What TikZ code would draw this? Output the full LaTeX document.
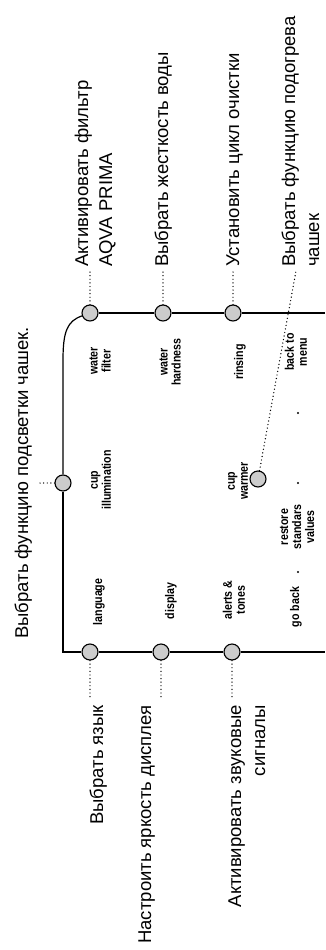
\documentclass[tikz,border=0pt]{standalone}
\usepackage{fontspec}
\setmainfont{Liberation Sans}
\newfontfamily\menufont{Liberation Sans}[FakeStretch=0.85]
\usepackage{tikz}

\begin{document}
\begin{tikzpicture}[x=1pt,y=-1pt,
    knob/.style={circle,draw,line width=1.1pt,fill=gray!40,minimum size=16pt,inner sep=0pt},
    track/.style={line width=1.2pt},
    leader/.style={line width=1.4pt,line cap=round,dash pattern=on 0pt off 3.6pt},
    menu/.style={rotate=90,align=center,inner sep=0pt,font=\menufont\bfseries\fontsize{12.5}{13}\selectfont},
    hint/.style={rotate=90,inner sep=0pt,font=\fontsize{18.5}{24}\selectfont},
    speck/.style={circle,fill,inner sep=0pt,minimum size=2.4pt}]
    \useasboundingbox (0,0) rectangle (325,950);
    \node[knob] (wf) at (90,313) {};
    \node[knob] (wh) at (163,313) {};
    \node[knob] (rin) at (233,313) {};
    \node[knob] (ci) at (63,483) {};
    \node[knob] (cw) at (258,479) {};
    \node[knob] (lang) at (90,652) {};
    \node[knob] (disp) at (161,652) {};
    \node[knob] (alert) at (232,652) {};
    \coordinate (topend) at (325,313);
    \coordinate (botend) at (325,652);
    \coordinate (bend) at (63,360);
    \coordinate (corner) at (63,652);
    \draw[track] (topend) -- (rin);
    \draw[track] (rin) -- (wh);
    \draw[track] (wh) -- (wf);
    \draw[track] (wf.200) .. controls (67,321) and (63,332) .. (bend) -- (ci);
    \draw[track] (ci) -- (corner) -- (lang);
    \draw[track] (lang) -- (disp);
    \draw[track] (disp) -- (alert);
    \draw[track] (alert) -- (botend);
    \coordinate (wfend) at (90,271);
    \coordinate (whend) at (163,271);
    \coordinate (rinend) at (233,271);
    \coordinate (cwend) at (296,271);
    \coordinate (ciend) at (38,483);
    \coordinate (langend) at (90,698);
    \coordinate (dispend) at (161,698);
    \coordinate (alertend) at (232,698);
    \draw[leader] (wf) -- (wfend);
    \draw[leader] (wh) -- (whend);
    \draw[leader] (rin) -- (rinend);
    \draw[leader] (cw) -- (cwend);
    \draw[leader] (ci) -- (ciend);
    \draw[leader] (lang) -- (langend);
    \draw[leader] (disp) -- (dispend);
    \draw[leader] (alert) -- (alertend);
    \node[hint,align=left,anchor=base west] (wflbl) at (112,267) {Активировать фильтр\\AQVA PRIMA};
    \node[hint,anchor=base west] (whlbl) at (168,267) {Выбрать жесткость воды};
    \node[hint,anchor=base west] (rinlbl) at (239,267) {Установить цикл очистки};
    \node[hint,align=left,anchor=base west] (cwlbl) at (319,267) {Выбрать функцию подогрева\\чашек};
    \node[hint,anchor=base] (cilbl) at (28,483) {Выбрать функцию подсветки чашек.};
    \node[hint,anchor=base east] (langlbl) at (103,705) {Выбрать язык};
    \node[hint,anchor=base east] (displbl) at (151,705) {Настроить яркость дисплея};
    \node[hint,align=right,anchor=base east] (alertlbl) at (265,705) {Активировать звуковые\\сигналы};
    \node[menu] (wftxt) at (100,361) {water\\filter};
    \node[menu] (whtxt) at (170,362) {water\\hardness};
    \node[menu] (rintxt) at (240,362) {rinsing};
    \node[menu] (backtxt) at (296,352) {back to\\menu};
    \node[menu] (citxt) at (101,480) {cup\\illumination};
    \node[menu] (cwtxt) at (238,481) {cup\\warmer};
    \node[menu] (rsttxt) at (297,527) {restore\\standars\\values};
    \node[menu] (langtxt) at (99,602) {language};
    \node[menu] (disptxt) at (171,601) {display};
    \node[menu] (alerttxt) at (234,600) {alerts \&\\tones};
    \node[menu] (gotxt) at (296,607) {go back};
    \node[speck] (s1) at (298,413) {};
    \node[speck] (s2) at (298,483) {};
    \node[speck] (s3) at (298,572) {};
\end{tikzpicture}
\end{document}
